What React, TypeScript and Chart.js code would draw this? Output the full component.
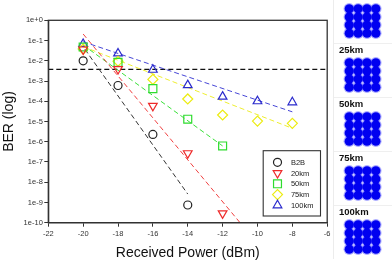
import React, { useEffect, useRef } from "react";
import { Chart, registerables } from "chart.js";
import { drawPoint } from "chart.js/helpers";

Chart.register(...registerables);

// Received optical power (dBm) at each measurement
const powerLevels = [-20, -18, -16, -14, -12, -10, -8];

// Measured BER per transmission distance
const berB2B = [1.0e-2, 6.0e-4, 2.3e-6, 7.5e-10];
const ber20km = [3.6e-2, 3.9e-3, 5.9e-5, 2.7e-7, 2.9e-10];
const ber50km = [4.8e-2, 8.4e-3, 4.2e-4, 1.3e-5, 6.2e-7];
const ber75km = [3.8e-2, 9.5e-3, 1.2e-3, 1.3e-4, 2.1e-5, 1.05e-5, 8.1e-6];
const ber100km = [6.8e-2, 2.3e-2, 3.6e-3, 6.3e-4, 1.7e-4, 1.0e-4, 8.9e-5];

// Linear (log-BER) trend fits: power span and BER at both ends
const fitB2BPower = [-19.9, -14];
const fitB2BBer = [3.7e-2, 2.6e-9];
const fit20kmPower = [-20, -11];
const fit20kmBer = [2.1e-1, 1.0e-10];
const fit50kmPower = [-20, -12];
const fit50kmBer = [6.0e-2, 6.2e-7];
const fit75kmPower = [-20, -8];
const fit75kmBer = [5.0e-2, 4.6e-6];
const fit100kmPower = [-20, -8];
const fit100kmBer = [8.7e-2, 3.0e-5];

// Hard-decision FEC limit
const fecPower = [-22, -6];
const fecBer = 3.8e-3;

const seriesNames = ["B2B", "20km", "50km", "75km", "100km"];

const yTickValues = [1, 1e-1, 1e-2, 1e-3, 1e-4, 1e-5, 1e-6, 1e-7, 1e-8, 1e-9, 1e-10];
const yTickLabels = ["1e+0", "1e-1", "1e-2", "1e-3", "1e-4", "1e-5", "1e-6", "1e-7", "1e-8", "1e-9", "1e-10"];

// 16-QAM symbol levels on I and Q
const constellationLevels = [-3, -1, 1, 3];
const constellationLabels = ["25km", "50km", "75km", "100km"];

const FONT = "'Liberation Sans', Arial, Helvetica, sans-serif";
const AXIS = "#333";

const pairs = (xs: number[], ys: number[]) => ys.map((y, i) => ({ x: xs[i], y }));

const markerSet = (
  label: string,
  values: number[],
  color: string,
  pointStyle: string,
  radius: number,
  rotation = 0
) => ({
  label,
  data: pairs(powerLevels, values),
  showLine: false,
  pointStyle,
  pointRadius: radius,
  pointRotation: rotation,
  pointBorderWidth: 1.2,
  pointBorderColor: color,
  pointBackgroundColor: "rgba(0,0,0,0)",
  borderColor: color,
  backgroundColor: "rgba(0,0,0,0)",
  clip: false as const,
});

const fitSet = (xs: number[], ys: number[], color: string) => ({
  label: "",
  data: pairs(xs, ys),
  showLine: true,
  borderColor: color,
  borderWidth: 1,
  borderDash: [5, 3],
  pointRadius: 0,
  fill: false,
});

const framePlugin = {
  id: "plotFrame",
  afterDatasetsDraw(chart: any) {
    const { ctx, chartArea } = chart;
    ctx.save();
    ctx.strokeStyle = AXIS;
    ctx.lineWidth = 1.3;
    ctx.strokeRect(chartArea.left, chartArea.top, chartArea.right - chartArea.left, chartArea.bottom - chartArea.top);
    ctx.restore();
  },
};

const legendPlugin = {
  id: "berLegend",
  afterDraw(chart: any) {
    const { ctx, chartArea } = chart;
    const boxW = 57.3;
    const boxH = 65.3;
    const x0 = chartArea.right - 6.7 - boxW;
    const y0 = chartArea.bottom - 6.7 - boxH;
    ctx.save();
    ctx.fillStyle = "#fff";
    ctx.fillRect(x0, y0, boxW, boxH);
    ctx.strokeStyle = AXIS;
    ctx.lineWidth = 1.1;
    ctx.strokeRect(x0, y0, boxW, boxH);
    ctx.font = `7.5px ${FONT}`;
    ctx.textBaseline = "middle";
    ctx.textAlign = "left";
    seriesNames.forEach((name, i) => {
      const ds = chart.data.datasets[i];
      const cy = y0 + 11.6 + i * 10.75;
      ctx.strokeStyle = ds.pointBorderColor;
      ctx.fillStyle = "rgba(0,0,0,0)";
      ctx.lineWidth = 1.2;
      drawPoint(ctx, { pointStyle: ds.pointStyle, rotation: ds.pointRotation, radius: ds.pointRadius, borderWidth: 1.2 }, x0 + 14.3, cy);
      ctx.fillStyle = "#222";
      ctx.fillText(name, x0 + 27.7, cy + 0.5);
    });
    ctx.restore();
  },
};

function BerChart() {
  const ref = useRef<HTMLCanvasElement>(null);
  useEffect(() => {
    const chart = new Chart(ref.current as HTMLCanvasElement, {
      type: "scatter",
      data: {
        datasets: [
          markerSet(seriesNames[0], berB2B, "#222222", "circle", 4),
          markerSet(seriesNames[1], ber20km, "#ee2a2a", "triangle", 5, 180),
          markerSet(seriesNames[2], ber50km, "#2edc2e", "rect", 5.6),
          markerSet(seriesNames[3], ber75km, "#ecec10", "rectRot", 5),
          markerSet(seriesNames[4], ber100km, "#2a2acc", "triangle", 5),
          fitSet(fitB2BPower, fitB2BBer, "#333333"),
          fitSet(fit20kmPower, fit20kmBer, "#f04040"),
          fitSet(fit50kmPower, fit50kmBer, "#3ae03a"),
          fitSet(fit75kmPower, fit75kmBer, "#eeee30"),
          fitSet(fit100kmPower, fit100kmBer, "#4646d6"),
          {
            label: "",
            data: fecPower.map((x) => ({ x, y: fecBer })),
            showLine: true,
            borderColor: "#111",
            borderWidth: 1.2,
            borderDash: [5, 3],
            pointRadius: 0,
          },
        ] as any,
      },
      options: {
        responsive: false,
        animation: false,
        events: [],
        layout: { padding: { top: 20.3, right: 4, left: 0, bottom: 0 } },
        plugins: { legend: { display: false }, tooltip: { enabled: false } },
        scales: {
          x: {
            type: "linear",
            min: -22,
            max: -6,
            afterFit: (s: any) => {
              s.height = 41.3;
              s.paddingLeft = 0;
              s.paddingRight = 0;
            },
            ticks: { stepSize: 2, color: AXIS, padding: 3, font: { family: FONT, size: 7.5 } },
            grid: { drawOnChartArea: false, drawTicks: true, tickLength: 4, color: AXIS },
            border: { display: true, color: AXIS, width: 1.3 },
            title: {
              display: true,
              text: "Received Power (dBm)",
              color: "#111",
              font: { family: FONT, size: 14 },
              padding: { top: 0, bottom: 2.3 },
            },
          },
          y: {
            type: "logarithmic",
            min: 1e-10,
            max: 1,
            afterFit: (s: any) => {
              s.width = 48.3;
              s.paddingTop = 0;
              s.paddingBottom = 0;
            },
            afterBuildTicks: (s: any) => {
              s.ticks = yTickValues.map((value) => ({ value }));
            },
            ticks: {
              autoSkip: false,
              color: AXIS,
              padding: 1.5,
              font: { family: FONT, size: 7.5 },
              callback: (value: any) => {
                const idx = yTickValues.findIndex((v) => Math.abs(Math.log10(v) - Math.log10(value)) < 1e-6);
                return idx >= 0 ? yTickLabels[idx] : "";
              },
            },
            grid: { drawOnChartArea: false, drawTicks: true, tickLength: 4, color: AXIS },
            border: { display: true, color: AXIS, width: 1.3 },
            title: {
              display: true,
              text: "BER (log)",
              color: "#111",
              font: { family: FONT, size: 14 },
              padding: { top: 0.6, bottom: 0 },
            },
          },
        },
      } as any,
      plugins: [framePlugin, legendPlugin],
    });
    return () => chart.destroy();
  }, []);
  return <canvas ref={ref} width={334} height={264} style={{ display: "block" }} />;
}

function ConstellationPanel() {
  const ref = useRef<HTMLCanvasElement>(null);
  useEffect(() => {
    const symbols = constellationLevels.flatMap((i) => constellationLevels.map((q) => ({ x: i, y: q })));
    const chart = new Chart(ref.current as HTMLCanvasElement, {
      type: "scatter",
      data: {
        datasets: [
          { data: symbols, pointRadius: 4.6, backgroundColor: "#0000f0", borderWidth: 0, clip: false },
          { data: symbols, pointRadius: 5.7, backgroundColor: "rgba(40,40,255,0.38)", borderWidth: 0, clip: false },
        ] as any,
      },
      options: {
        responsive: false,
        animation: false,
        events: [],
        layout: { padding: 0 },
        plugins: { legend: { display: false }, tooltip: { enabled: false } },
        scales: {
          x: { display: false, min: -5.15, max: 5.58 },
          y: { display: false, min: -4, max: 4 },
        },
      } as any,
    });
    return () => chart.destroy();
  }, []);
  return <canvas ref={ref} width={59} height={44} style={{ display: "block", filter: "blur(0.4px)" }} />;
}

export default function App() {
  const panelLabels: (string | null)[] = [null, ...constellationLabels];
  return (
    <div
      style={{
        position: "fixed",
        left: 0,
        top: 0,
        width: 392,
        height: 264,
        background: "#fff",
        overflow: "hidden",
      }}
    >
      <div style={{ position: "absolute", left: 0, top: 0 }}>
        <BerChart />
      </div>
      <div
        style={{
          position: "absolute",
          left: 333,
          top: -11,
          width: 59,
          borderLeft: "1px solid #ececec",
        }}
      >
        {panelLabels.map((label, i) => (
          <div key={i} style={{ borderTop: i > 0 ? "1px solid #efefef" : "none" }}>
            <div
              style={{
                height: i > 0 ? 9 : 10,
                lineHeight: "10px",
                paddingLeft: 5,
                font: `bold 9.5px ${FONT}`,
                color: "#111",
                whiteSpace: "nowrap",
              }}
            >
              {label ?? ""}
            </div>
            <ConstellationPanel />
          </div>
        ))}
      </div>
    </div>
  );
}
